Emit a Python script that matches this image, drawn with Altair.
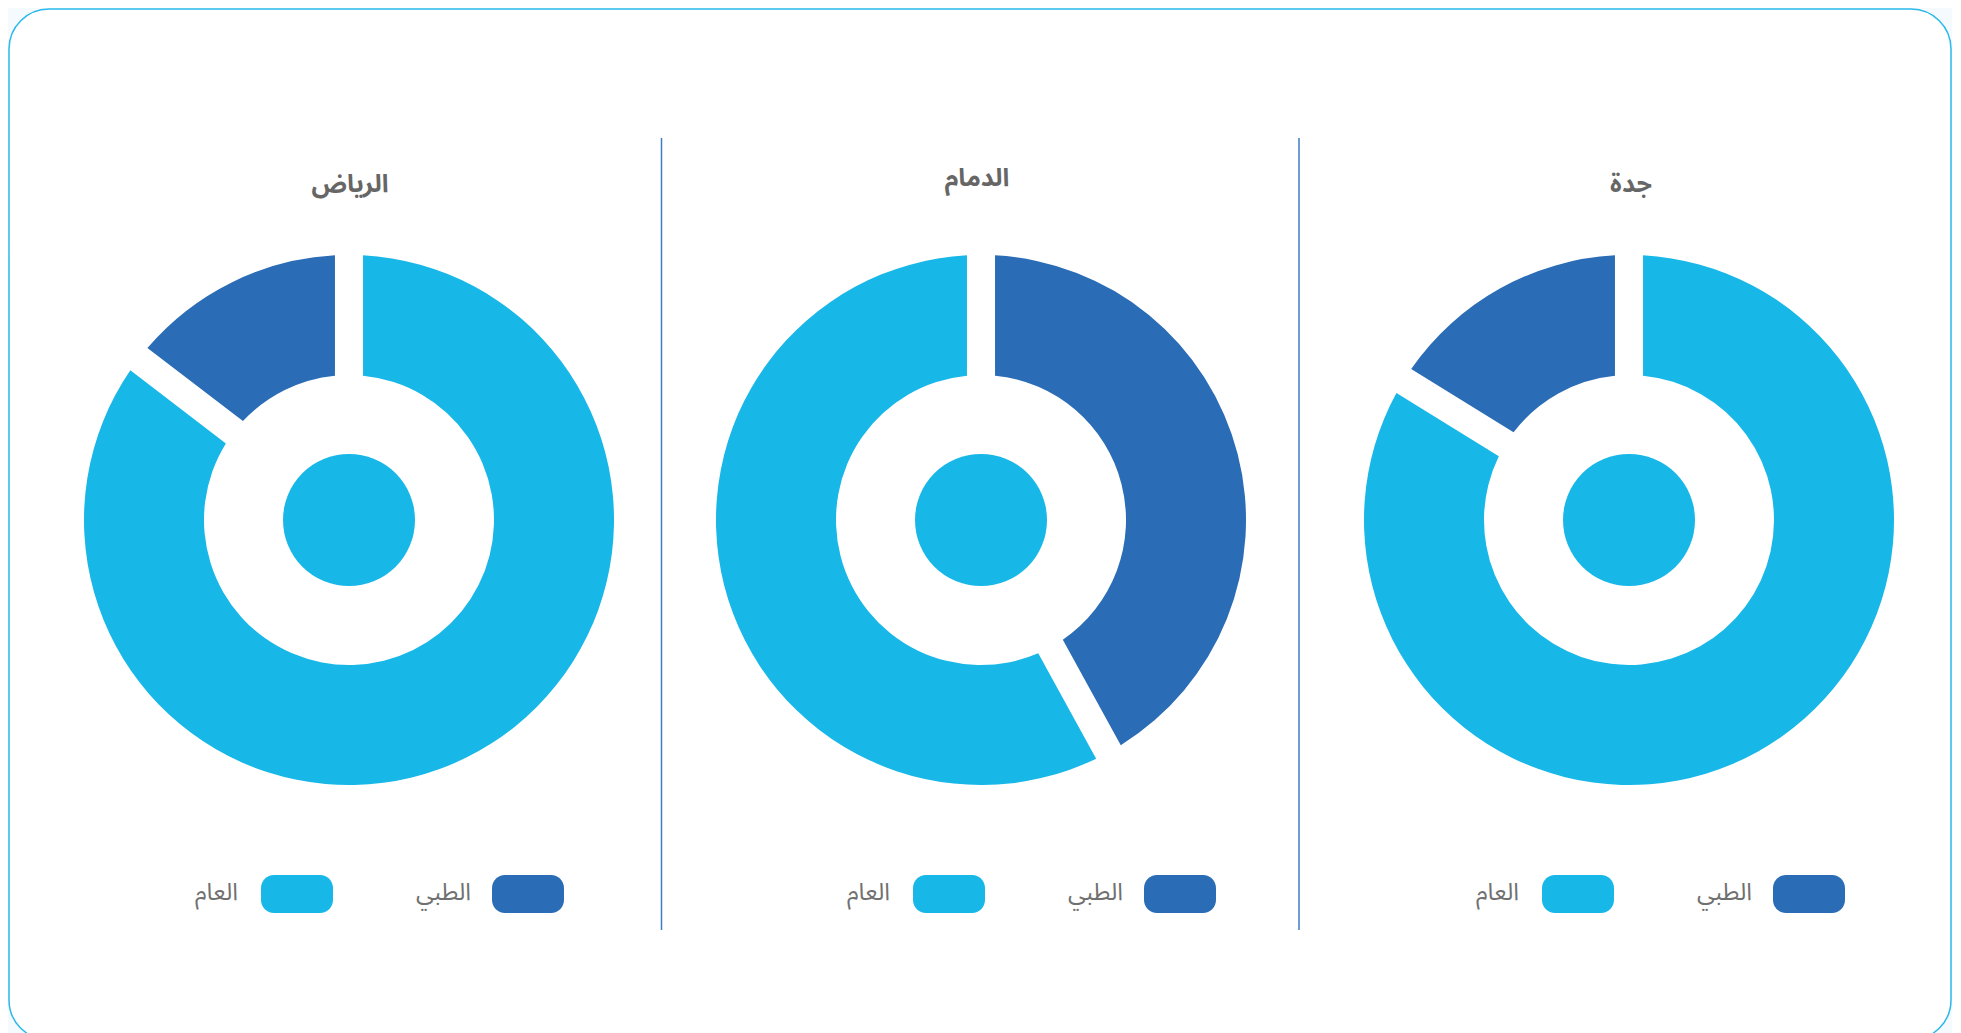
import altair as alt
import pandas as pd

# ---------------- data ----------------
cities = ["الرياض", "الدمام", "جدة"]
categories = ["الطبي", "العام"]
tibbi_share = [14.6, 42.0, 16.2]   # الطبي
aam_share = [85.4, 58.0, 83.8]     # العام
# order of the slices, clockwise from 12 o'clock
slice_order = [["العام", "الطبي"], ["الطبي", "العام"], ["العام", "الطبي"]]

# ---------------- style / layout ----------------
DARK = "#2a6cb5"
LIGHT = "#17b7e8"
FONT = "Noto Sans Arabic, DejaVu Sans"
W, H = 1942, 1031
CY = 511
R_OUT, R_IN, R_DOT = 265, 145, 66
layout = {
    "الرياض": dict(cx=340, tx=341, ty=175, lx=519),
    "الدمام": dict(cx=972, tx=968, ty=169, lx=1171),
    "جدة": dict(cx=1620, tx=1622, ty=175, lx=1800),
}
separators = [652.5, 1290]
SW_W, SW_H, LEG_Y = 72, 38, 885

rows = []
for i, c in enumerate(cities):
    vals = {"الطبي": tibbi_share[i], "العام": aam_share[i]}
    for k, cat in enumerate(slice_order[i]):
        rows.append({"city": c, "category": cat, "value": vals[cat], "order": k})
df = pd.DataFrame(rows)
city_df = pd.DataFrame({"city": cities})
cat_df = pd.DataFrame({"category": categories})

color_scale = alt.Scale(domain=categories, range=[DARK, LIGHT])

layers = []
for c in cities:
    L = layout[c]
    arc = alt.Chart(df).transform_filter(alt.datum.city == c).mark_arc(
        outerRadius=R_OUT, innerRadius=R_IN, padAngle=0.093
    ).encode(
        theta=alt.Theta("value:Q", stack="normalize"),
        order=alt.Order("order:Q"),
        color=alt.Color("category:N", scale=color_scale, legend=None),
        x=alt.value(L["cx"]),
        y=alt.value(CY),
    )
    dot = alt.Chart(city_df).transform_filter(alt.datum.city == c).mark_arc(
        radius=R_DOT, theta=0, theta2=6.2832, color=LIGHT
    ).encode(x=alt.value(L["cx"]), y=alt.value(CY))
    title = alt.Chart(city_df).transform_filter(alt.datum.city == c).mark_text(
        font=FONT, fontSize=25, fontWeight="bold", color="#666666",
        align="center", baseline="middle"
    ).encode(text="city:N", x=alt.value(L["tx"]), y=alt.value(L["ty"]))
    layers += [arc, dot, title]

    # custom legend: swatch with label on its left (RTL)
    for j, cat in enumerate(categories):
        sx = L["lx"] - 231 * j
        sw = alt.Chart(cat_df).transform_filter(alt.datum.category == cat).mark_rect(
            cornerRadius=13
        ).encode(
            color=alt.Color("category:N", scale=color_scale, legend=None),
            x=alt.value(sx - SW_W / 2), x2=alt.value(sx + SW_W / 2),
            y=alt.value(LEG_Y - SW_H / 2), y2=alt.value(LEG_Y + SW_H / 2),
        )
        lab = alt.Chart(cat_df).transform_filter(alt.datum.category == cat).mark_text(
            font=FONT, fontSize=24, color="#707070", align="right", baseline="middle"
        ).encode(
            text="category:N",
            x=alt.value(sx - 57 - 2 * j), y=alt.value(LEG_Y - 1),
        )
        layers += [sw, lab]

sep_df = pd.DataFrame({"sep": [0, 1]})
for k, sx in enumerate(separators):
    rule = alt.Chart(sep_df).transform_filter(alt.datum.sep == k).mark_rule(
        color="#3f7dc4", strokeWidth=1.5
    ).encode(x=alt.value(sx), y=alt.value(129), y2=alt.value(921))
    layers.append(rule)

chart = alt.layer(*layers).properties(
    width=W, height=H, padding=1, background="#f4fafd"
).configure_view(
    stroke="#2ab9ea", strokeWidth=1.5, cornerRadius=40, fill="white"
)

chart.save("out.html", embed_options={"renderer": "svg", "actions": False})
